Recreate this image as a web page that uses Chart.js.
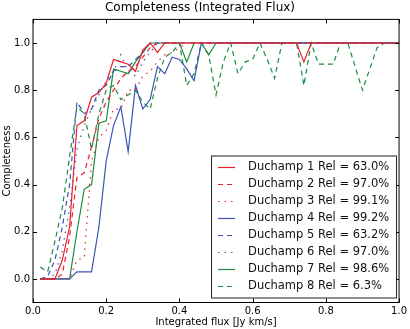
<!DOCTYPE html>
<html>
<head>
<meta charset="utf-8">
<script src="https://cdn.jsdelivr.net/npm/chart.js@4.4.0/dist/chart.umd.min.js"></script>
<style>
  html, body { margin: 0; padding: 0; background: #fff; }
</style>
</head>
<body>
<canvas id="chart" width="410" height="329"></canvas>
<script>
// flux bins [Jy km/s]
const flux = [0.02, 0.04, 0.06, 0.08, 0.10, 0.12, 0.14, 0.16, 0.18, 0.20,
              0.22, 0.24, 0.26, 0.28, 0.30, 0.32, 0.34, 0.36, 0.38, 0.40,
              0.42, 0.44, 0.46, 0.48, 0.50, 0.52, 0.54, 0.56, 0.58, 0.60,
              0.62, 0.64, 0.66, 0.68, 0.70, 0.72, 0.74, 0.76, 0.78, 0.80,
              0.82, 0.84, 0.86, 0.88, 0.90, 0.92, 0.94, 0.96, 0.98, 1.00];

// completeness per run
const duchamp1 = [0, 0, 0, 0.08, 0.22, 0.65, 0.67, 0.77, 0.79, 0.83,
                  0.93, 0.92, 0.91, 0.88, 0.97, 1, 0.96, 1, 1, 1,
                  1, 1, 1, 1, 1, 1, 1, 1, 1, 1,
                  1, 1, 1, 1, 1, 1, 0.92, 1, 1, 1,
                  1, 1, 1, 1, 1, 1, 1, 1, 1, 1];
const duchamp2 = [0, 0, 0, 0.02, 0.18, 0.43, 0.45, 0.56, 0.68, 0.75,
                  0.80, 0.85, 0.88, 0.90, 0.94, 0.98, 1, 1, 1, 1,
                  1, 1, 1, 1, 1, 1, 1, 1, 1, 1,
                  1, 1, 1, 1, 1, 1, 1, 1, 1, 1,
                  1, 1, 1, 1, 1, 1, 1, 1, 1, 1];
const duchamp3 = [0, 0, 0, 0, 0, 0.08, 0.09, 0.50, 0.60, 0.63,
                  0.72, 0.72, 0.80, 0.80, 0.86, 0.88, 0.92, 0.95, 0.96, 0.98,
                  1, 1, 1, 1, 1, 1, 1, 1, 1, 1,
                  1, 1, 1, 1, 1, 1, 1, 1, 1, 1,
                  1, 1, 1, 1, 1, 1, 1, 1, 1, 1];
const duchamp4 = [0, 0, 0, 0, 0, 0.03, 0.03, 0.03, 0.22, 0.50,
                  0.65, 0.73, 0.54, 0.82, 0.72, 0.76, 0.90, 0.87, 0.94, 0.93,
                  0.89, 0.84, 1, 1, 1, 1, 1, 1, 1, 1,
                  1, 1, 1, 1, 1, 1, 1, 1, 1, 1,
                  1, 1, 1, 1, 1, 1, 1, 1, 1, 1];
const duchamp5 = [0, 0.01, 0.08, 0.22, 0.40, 0.75, 0.70, 0.72, 0.80, 0.82,
                  0.88, 0.90, 0.90, 0.93, 0.96, 1, 1, 1, 1, 1,
                  1, 1, 1, 1, 1, 1, 1, 1, 1, 1,
                  1, 1, 1, 1, 1, 1, 1, 1, 1, 1,
                  1, 1, 1, 1, 1, 1, 1, 1, 1, 1];
const duchamp6 = [0, 0, 0.02, 0.12, 0.30, 0.55, 0.65, 0.72, 0.78, 0.84,
                  0.88, 0.95, 0.88, 0.86, 0.92, 0.96, 1, 1, 1, 1,
                  1, 1, 1, 1, 1, 1, 1, 1, 1, 1,
                  1, 1, 1, 1, 1, 1, 1, 1, 1, 1,
                  1, 1, 1, 1, 1, 1, 1, 1, 1, 1];
const duchamp7 = [0, 0, 0, 0, 0, 0.20, 0.38, 0.40, 0.66, 0.67,
                  0.89, 0.88, 0.87, 0.92, 0.96, 1, 1, 1, 1, 1,
                  0.92, 1, 1, 0.95, 1, 1, 1, 1, 1, 1,
                  1, 1, 1, 1, 1, 1, 1, 1, 1, 1,
                  1, 1, 1, 1, 1, 1, 1, 1, 1, 1];
const duchamp8 = [0.05, 0.03, 0.16, 0.30, 0.52, 0.73, 0.70, 0.55, 0.70, 0.80,
                  0.82, 0.76, 0.78, 0.80, 0.75, 0.72, 0.85, 0.94, 0.96, 1,
                  0.82, 0.87, 1, 0.95, 0.78, 0.92, 1, 0.87, 0.92, 0.93,
                  1, 0.93, 0.85, 1, 1, 1, 0.82, 1, 0.91, 0.91,
                  0.91, 1, 1, 0.90, 0.80, 0.89, 0.98, 1, 1, 1];

const labels = ['Duchamp 1 Rel = 63.0%', 'Duchamp 2 Rel = 97.0%', 'Duchamp 3 Rel = 99.1%',
                'Duchamp 4 Rel = 99.2%', 'Duchamp 5 Rel = 63.2%', 'Duchamp 6 Rel = 97.0%',
                'Duchamp 7 Rel = 98.6%', 'Duchamp 8 Rel = 6.3%'];

const xTicks = [0.0, 0.2, 0.4, 0.6, 0.8, 1.0];
const yTicks = [0.0, 0.2, 0.4, 0.6, 0.8, 1.0];

const RED = '#e8202c', BLUE = '#3a55b4', GREEN = '#198c3c';
const SOLID = [], DASH = [5, 4], DOT = [1.5, 5];

const series = [
  [duchamp1, RED, SOLID], [duchamp2, RED, DASH], [duchamp3, RED, DOT],
  [duchamp4, BLUE, SOLID], [duchamp5, BLUE, DASH], [duchamp6, BLUE, DOT],
  [duchamp7, GREEN, SOLID], [duchamp8, GREEN, DASH]
];

const datasets = series.map((s, i) => ({
  label: labels[i],
  data: s[0].map((v, j) => ({ x: flux[j], y: v })),
  borderColor: s[1],
  borderDash: s[2],
  borderWidth: 1.2,
  pointRadius: 0,
  tension: 0,
  fill: false
}));

const FONT = 'DejaVu Sans';

// frame, inward ticks and the boxed legend in the lower right
const frameAndLegend = {
  id: 'frameAndLegend',
  afterDraw(chart) {
    const ctx = chart.ctx;
    const a = chart.chartArea;
    const xs = chart.scales.x, ys = chart.scales.y;
    ctx.save();
    ctx.strokeStyle = '#000';
    ctx.lineWidth = 1;
    ctx.strokeRect(a.left, a.top, a.right - a.left, a.bottom - a.top);
    ctx.beginPath();
    xTicks.forEach(v => {
      const px = Math.round(xs.getPixelForValue(v)) + 0.5;
      ctx.moveTo(px, a.bottom); ctx.lineTo(px, a.bottom - 4);
      ctx.moveTo(px, a.top); ctx.lineTo(px, a.top + 4);
    });
    yTicks.forEach(v => {
      const py = Math.round(ys.getPixelForValue(v)) + 0.5;
      ctx.moveTo(a.left, py); ctx.lineTo(a.left + 4, py);
      ctx.moveTo(a.right, py); ctx.lineTo(a.right - 4, py);
    });
    ctx.stroke();

    // legend box
    const bx = a.right - 188, by = a.bottom - 147, bw = 185, bh = 142;
    ctx.fillStyle = '#fff';
    ctx.fillRect(bx, by, bw, bh);
    ctx.strokeStyle = '#222';
    ctx.strokeRect(bx + 0.5, by + 0.5, bw, bh);
    ctx.font = '11.5px "' + FONT + '"';
    ctx.textBaseline = 'middle';
    ctx.textAlign = 'left';
    chart.data.datasets.forEach((ds, i) => {
      const y = by + 12 + i * 17;
      ctx.beginPath();
      ctx.strokeStyle = ds.borderColor;
      ctx.lineWidth = 1.2;
      ctx.setLineDash(ds.borderDash);
      ctx.moveTo(bx + 7, y); ctx.lineTo(bx + 24, y);
      ctx.stroke();
      ctx.setLineDash([]);
      ctx.fillStyle = '#111';
      ctx.fillText(ds.label, bx + 37, y);
    });
    ctx.restore();
  }
};

new Chart(document.getElementById('chart').getContext('2d'), {
  type: 'line',
  data: { datasets: datasets },
  options: {
    responsive: false,
    animation: false,
    layout: { padding: { left: 0, right: 10, top: 0, bottom: 0 } },
    plugins: {
      legend: { display: false },
      tooltip: { enabled: false },
      title: {
        display: true,
        text: 'Completeness (Integrated Flux)',
        color: '#000',
        font: { family: FONT, size: 12, weight: 'normal' },
        padding: { top: 1, bottom: 4 }
      }
    },
    scales: {
      x: {
        type: 'linear',
        min: 0, max: 1,
        afterBuildTicks: s => { s.ticks = xTicks.map(v => ({ value: v })); },
        afterFit: s => { s.height = 26.5; },
        grid: { display: false, drawTicks: false },
        border: { display: false },
        ticks: {
          color: '#000', padding: 3,
          font: { family: FONT, size: 10 },
          callback: v => Number(v).toFixed(1)
        },
        title: {
          display: true, text: 'Integrated flux [Jy km/s]', color: '#000',
          font: { family: FONT, size: 10 }, padding: { top: 0, bottom: 1 }
        }
      },
      y: {
        min: -0.1, max: 1.1,
        afterBuildTicks: s => { s.ticks = yTicks.map(v => ({ value: v })); },
        afterFit: s => { s.width = 33; },
        grid: { display: false, drawTicks: false },
        border: { display: false },
        ticks: {
          color: '#000', padding: 3,
          font: { family: FONT, size: 10 },
          callback: v => Number(v).toFixed(1)
        },
        title: {
          display: true, text: 'Completeness', color: '#000',
          font: { family: FONT, size: 10 }, padding: { top: 1, bottom: 0 }
        }
      }
    }
  },
  plugins: [frameAndLegend]
});
</script>
</body>
</html>
